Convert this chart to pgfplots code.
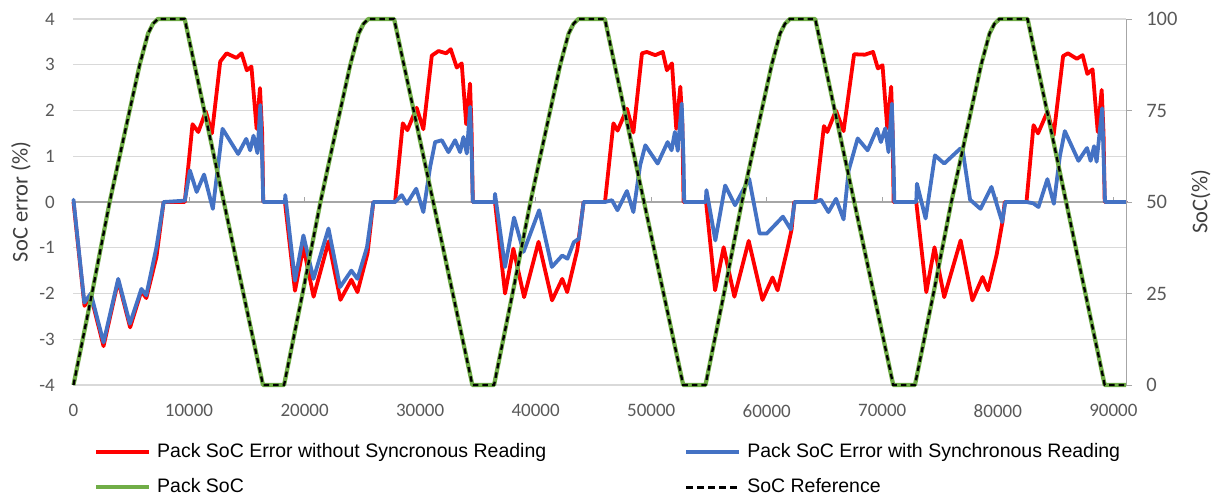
\documentclass[border=0pt]{standalone}
\usepackage{fontspec}
\setmainfont{Carlito}
\newfontfamily\legfont{Liberation Sans}
\usepackage{pgfplots}
\pgfplotsset{compat=1.18}
\definecolor{cRed}{HTML}{FF0000}
\definecolor{cBlue}{HTML}{4472C4}
\definecolor{cGreen}{HTML}{70AD47}
\definecolor{cGrid}{HTML}{D9D9D9}
\definecolor{cAxis}{HTML}{A6A6A6}
\definecolor{cTick}{HTML}{595959}
\definecolor{cTitle}{HTML}{404040}

\pgfplotstableread{
x y
0 0
950 -2.27
1500 -2.05
2600 -3.15
3870 -1.72
4900 -2.74
5870 -1.95
6300 -2.1
7180 -1.2
7800 0
9630 0
10300 1.7
10800 1.53
11450 1.98
11980 1.5
12700 3.07
13250 3.25
14100 3.15
14550 3.25
15000 2.88
15400 2.96
15850 1.6
16140 2.49
16330 1.5
16420 0
18300 0
19170 -1.94
19900 -0.98
20780 -2.07
22080 -0.86
23100 -2.14
24050 -1.7
24575 -1.97
25450 -1.12
25950 0
27830 0
28500 1.72
28900 1.57
29700 2.06
30280 1.59
31010 3.2
31590 3.3
32250 3.25
32650 3.34
33170 2.94
33600 3.03
33990 1.7
34320 2.59
34450 1.6
34560 0
36480 0
37350 -2.0
38070 -1.02
39000 -2.08
40250 -0.87
41420 -2.15
42300 -1.68
42730 -1.97
43600 -1.05
44150 0
46000 0
46730 1.72
47090 1.56
47900 2.04
48460 1.52
49200 3.25
49620 3.28
50350 3.21
51000 3.28
51360 2.88
51800 3.03
52170 1.6
52520 2.52
52700 1.7
52800 0
54750 0
55530 -1.93
56270 -0.99
57200 -2.07
58440 -0.85
59630 -2.14
60500 -1.65
60940 -1.93
61820 -0.99
62150 -0.6
62380 0
64200 0
64950 1.66
65240 1.53
65990 2.0
66650 1.55
67560 3.23
68500 3.22
69200 3.28
69620 2.92
70020 2.99
70430 1.62
70770 2.52
70900 1.5
70980 0
72940 0
73810 -1.97
74520 -0.99
75360 -2.08
76780 -0.84
77800 -2.15
78680 -1.64
79150 -1.93
79900 -1.15
80390 -0.45
80600 0
82480 0
83090 1.68
83480 1.5
84300 1.98
84830 1.46
85650 3.19
86070 3.25
86840 3.13
87340 3.21
87750 2.8
88200 2.9
88650 1.53
88990 2.45
89150 1.5
89250 0
91100 0
}\errNoSync

\pgfplotstableread{
x y
0 0.05
940 -2.2
1500 -2.0
2600 -3.07
3870 -1.68
4880 -2.66
5880 -1.9
6300 -2.04
7180 -0.99
7800 0
9640 0.03
10076 0.69
10660 0.22
11300 0.6
12060 -0.15
12900 1.6
14250 1.05
14950 1.38
15290 1.13
15580 1.45
15920 1.07
16170 2.12
16340 0.84
16420 0
18300 0
18330 0.15
19170 -1.72
19900 -0.73
20770 -1.68
22070 -0.58
23070 -1.86
24050 -1.5
24575 -1.68
25400 -0.99
25950 0
27830 0
28410 0.15
28850 -0.04
29660 0.29
30280 -0.22
30870 0.77
31300 1.31
31880 1.35
32450 1.09
33030 1.35
33460 1.09
33750 1.42
34040 1.06
34330 2.08
34480 0.91
34560 0
36450 0
36480 0.18
37350 -1.42
38130 -0.34
38950 -1.09
40300 -0.18
41400 -1.42
42300 -1.17
42750 -1.24
43300 -0.88
43750 -0.8
44150 0
46000 0
46600 0.04
47080 -0.18
47900 0.24
48460 -0.22
49040 0.8
49490 1.24
50560 0.84
51420 1.31
51760 1.13
52050 1.53
52300 1.12
52640 2.15
52800 0.9
52857 0
54720 0
54780 0.26
55550 -0.84
56400 0.36
57260 -0.07
58480 0.51
59380 -0.69
60000 -0.69
61400 -0.32
62080 -0.6
62420 0
64200 0
64700 0.05
65340 -0.22
66000 0.07
66650 -0.38
67090 0.69
67870 1.39
68730 1.13
69540 1.6
69880 1.31
70260 1.61
70540 1.09
70830 2.15
70990 0.7
71040 0
72940 0
73000 0.4
73750 -0.36
74560 1.02
75360 0.84
76760 1.17
76950 1.15
77600 0.05
78500 -0.15
79450 0.33
80380 -0.44
80650 0
82500 0
83080 -0.03
83520 -0.11
84290 0.5
84850 -0.04
85370 1.0
85800 1.55
86980 0.9
87720 1.18
88030 0.9
88330 1.22
88550 0.88
89030 2.05
89200 0.62
89280 0
91100 0
}\errSync

\pgfplotstableread{
x y
0 0
1600 25
3130 50
4860 75
5730 87.5
6450 96
6880 98.7
7300 100
9625 100
16400 0
18225 0
19825 25
21375 50
23085 75
23955 87.5
24675 96
25105 98.7
25525 100
27750 100
34520 0
36400 0
38000 25
39550 50
41260 75
42130 87.5
42850 96
43280 98.7
43700 100
45990 100
52770 0
54700 0
56300 25
57850 50
59560 75
60430 87.5
61150 96
61580 98.7
62000 100
64200 100
70950 0
72830 0
74430 25
75980 50
77690 75
78560 87.5
79280 96
79710 98.7
80130 100
82580 100
89250 0
91100 0
}\soc

\begin{document}
\begin{tikzpicture}[x=1pt,y=1pt]
\useasboundingbox (-73.5,-113) rectangle (1137.5,385);
\begin{axis}[
  at={(0,0)}, anchor=south west,
  scale only axis, width=1052.5pt, height=366pt,
  xmin=0, xmax=91100, ymin=-4, ymax=4,
  clip=false,
  scaled x ticks=false, scaled y ticks=false,
  axis line style={draw=none},
  major tick length=0pt,
  ytick={-4,-3,-2,-1,0,1,2,3,4},
  yticklabels={-4,-3,-2,-1,0,1,2,3,4},
  xtick={0,10000,20000,30000,40000,50000,60000,70000,80000,90000},
  xticklabels={0,10000,20000,30000,40000,50000,60000,70000,80000,90000},
  ymajorgrids, grid style={cGrid, line width=1.2pt},
  tick label style={font=\fontsize{19}{19}\selectfont, text=cTick},
  yticklabel style={inner sep=0pt, xshift=-18.5pt},
  xticklabel style={inner sep=0pt, yshift=-19pt},
  ylabel={SoC error (\%)},
  ylabel style={at={(axis description cs:-0.0499,0.5)}, anchor=center, font=\fontsize{22.5}{22.5}\selectfont, text=cTitle},
]
\draw[cAxis, line width=1.2pt] (axis cs:0,0) -- (axis cs:91100,0);
\pgfplotsinvokeforeach{10000,20000,30000,40000,50000,60000,70000,80000,90000}{
  \draw[cAxis, line width=0.8pt] (axis cs:#1,0) -- ++(0pt,5pt);
}
\addplot[cRed, line width=3.8pt, line join=round, line cap=round] table {\errNoSync};
\addplot[cBlue, line width=3.8pt, line join=round, line cap=round] table {\errSync};
\end{axis}
\begin{axis}[
  at={(0,0)}, anchor=south west,
  scale only axis, width=1052.5pt, height=366pt,
  xmin=0, xmax=91100, ymin=0, ymax=100,
  clip=false,
  axis x line=none,
  xtick=\empty, scaled x ticks=false, scaled y ticks=false,
  axis y line*=right,
  y axis line style={cAxis, line width=0.8pt, -},
  ytick={0,25,50,75,100},
  yticklabels={0,25,50,75,100},
  tick style={cAxis, line width=0.8pt},
  major tick length=6pt, tick align=outside,
  tick label style={font=\fontsize{20.5}{20.5}\selectfont, text=cTick},
  yticklabel style={inner sep=0pt, xshift=14pt},
  ylabel={SoC(\%)},
  ylabel style={at={(axis description cs:1.0708,0.5)}, anchor=center, font=\fontsize{22.5}{22.5}\selectfont, text=cTitle},
  legend columns=2,
  legend cell align=left,
  legend style={at={(axis description cs:0.01948,-0.15847)}, anchor=north west,
    draw=none, fill=none, inner sep=0pt, row sep=17pt,
    font=\legfont\fontsize{19.5}{19.5}\selectfont,
    nodes={inner sep=0pt, text height=14pt, text depth=4pt},
    /tikz/every odd column/.append style={column sep=6pt},
    /tikz/every even column/.append style={column sep=138pt}},
  legend image code/.code={\draw[#1] (0pt,0pt) -- (53pt,0pt);},
]
\addlegendimage{cRed, line width=4pt}
\addlegendentry{Pack SoC Error without Syncronous Reading}
\addlegendimage{cBlue, line width=4pt}
\addlegendentry{Pack SoC Error with Synchronous Reading}
\addplot[cGreen, line width=4.2pt, line join=round, legend image post style={line width=4pt}] table {\soc};
\addlegendentry{Pack SoC}
\addplot[black, line width=2.3pt, dash pattern=on 5.5pt off 4pt, legend image post style={line width=3pt, dash pattern=on 7pt off 4pt}] table {\soc};
\addlegendentry{SoC Reference}
\end{axis}
\end{tikzpicture}
\end{document}
